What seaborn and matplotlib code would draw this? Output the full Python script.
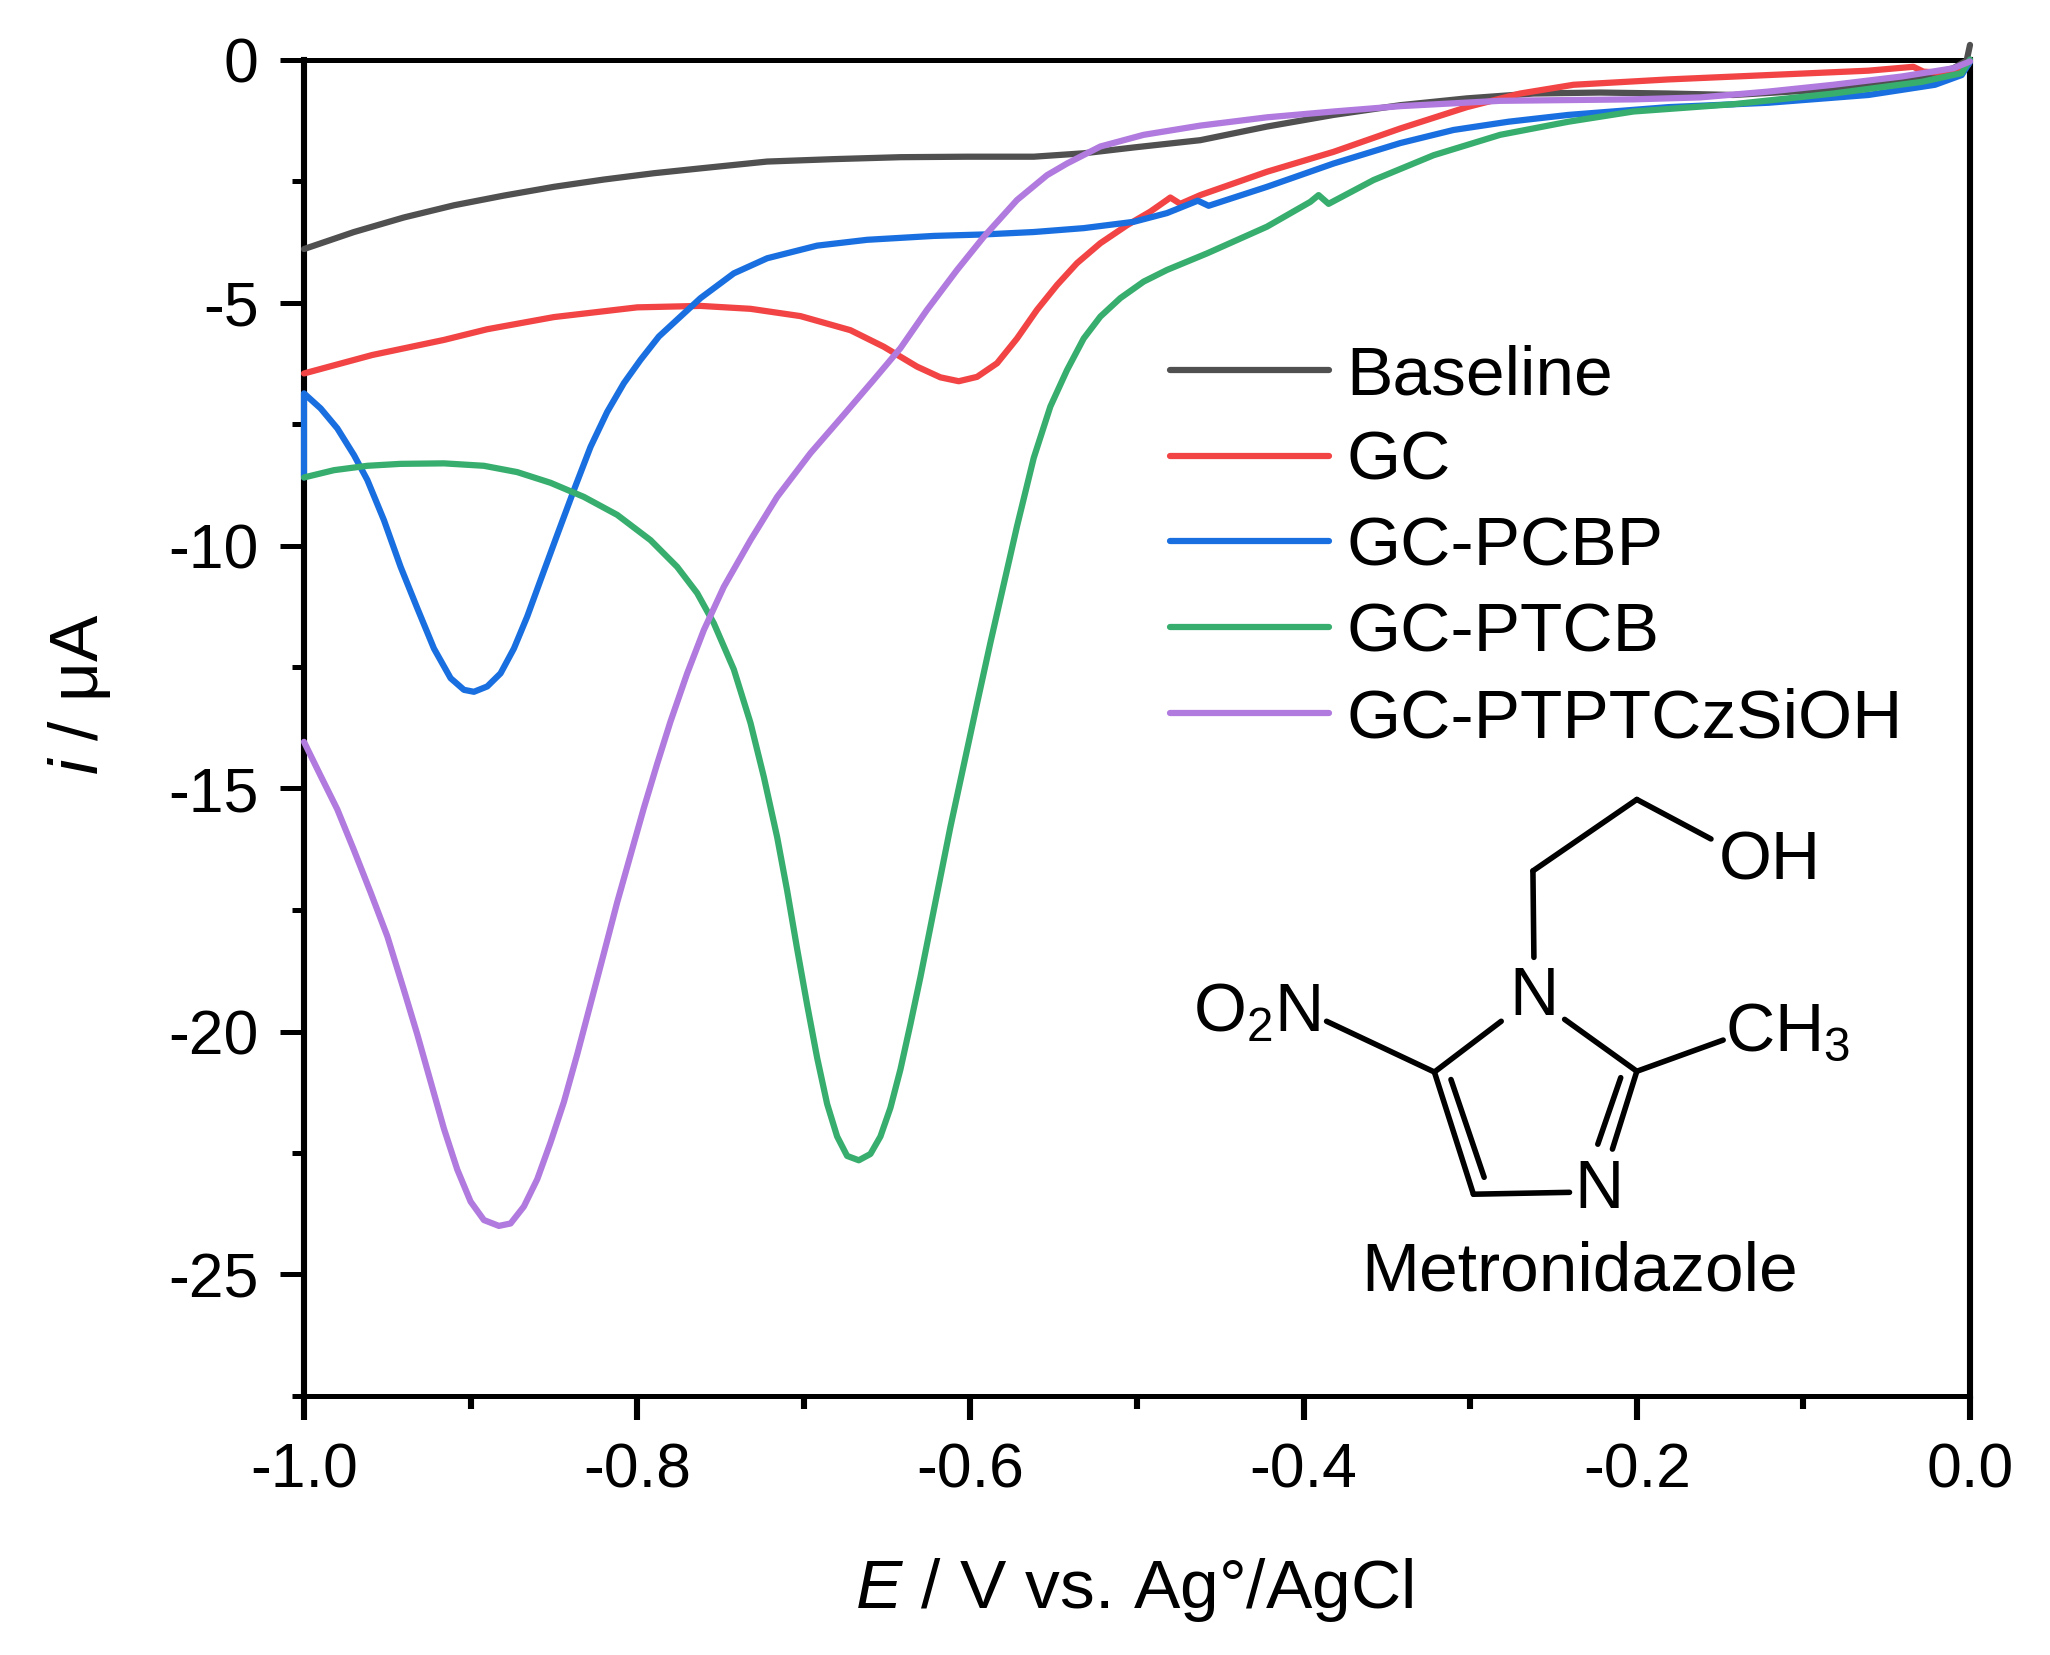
import matplotlib
matplotlib.use("Agg")
import matplotlib.pyplot as plt
import seaborn as sns
import pandas as pd
from matplotlib.lines import Line2D
from matplotlib.ticker import MultipleLocator, FixedLocator

series_names = ["Baseline", "GC", "GC-PCBP", "GC-PTCB", "GC-PTPTCzSiOH"]
colors = ["#505050", "#F24444", "#1A6FE0", "#37AE6E", "#B07ADE"]

base_x = [-1, -0.97, -0.94, -0.91, -0.88, -0.85, -0.82, -0.79, -0.762, -0.722, -0.682, -0.642, -0.602, -0.562, -0.532, -0.502, -0.462, -0.422, -0.382, -0.342, -0.302, -0.262, -0.222, -0.181, -0.142, -0.082, -0.041, -0.010, -0.002, 0]
base_y = [-3.9, -3.55, -3.25, -3.0, -2.8, -2.62, -2.47, -2.34, -2.24, -2.10, -2.05, -2.01, -2.0, -2.0, -1.93, -1.81, -1.66, -1.38, -1.14, -0.94, -0.80, -0.70, -0.68, -0.70, -0.73, -0.61, -0.46, -0.18, -0.02, 0.30]

gc_x = [-1, -0.959, -0.916, -0.89, -0.85, -0.80, -0.762, -0.732, -0.702, -0.672, -0.652, -0.632, -0.618, -0.607, -0.596, -0.584, -0.572, -0.560, -0.548, -0.536, -0.522, -0.506, -0.492, -0.482, -0.480, -0.474, -0.462, -0.422, -0.382, -0.342, -0.302, -0.270, -0.238, -0.181, -0.121, -0.061, -0.034, -0.028, -0.013, -0.001]
gc_y = [-6.46, -6.08, -5.77, -5.55, -5.30, -5.10, -5.07, -5.13, -5.28, -5.57, -5.91, -6.32, -6.54, -6.62, -6.53, -6.25, -5.74, -5.15, -4.64, -4.19, -3.78, -3.41, -3.13, -2.89, -2.84, -2.97, -2.79, -2.31, -1.90, -1.42, -0.98, -0.70, -0.52, -0.41, -0.32, -0.23, -0.15, -0.25, -0.28, -0.11]

pcbp_x = [-1, -1, -0.990, -0.980, -0.970, -0.962, -0.952, -0.942, -0.932, -0.922, -0.912, -0.904, -0.898, -0.890, -0.882, -0.874, -0.866, -0.858, -0.848, -0.838, -0.828, -0.818, -0.808, -0.798, -0.787, -0.762, -0.742, -0.722, -0.692, -0.662, -0.622, -0.592, -0.562, -0.532, -0.502, -0.482, -0.4635, -0.457, -0.422, -0.382, -0.342, -0.31, -0.277, -0.241, -0.181, -0.121, -0.061, -0.021, -0.005, 0]
pcbp_y = [-8.6, -6.87, -7.18, -7.59, -8.14, -8.65, -9.48, -10.44, -11.29, -12.12, -12.73, -12.97, -13.01, -12.9, -12.63, -12.12, -11.46, -10.71, -9.78, -8.86, -7.97, -7.25, -6.66, -6.18, -5.70, -4.91, -4.40, -4.09, -3.83, -3.71, -3.63, -3.60, -3.55, -3.47, -3.34, -3.16, -2.905, -3.01, -2.62, -2.14, -1.72, -1.45, -1.28, -1.14, -0.98, -0.89, -0.73, -0.52, -0.32, -0.05]

ptcb_x = [-1, -0.982, -0.962, -0.942, -0.916, -0.892, -0.872, -0.852, -0.832, -0.812, -0.792, -0.776, -0.764, -0.754, -0.742, -0.732, -0.724, -0.716, -0.710, -0.704, -0.698, -0.692, -0.686, -0.680, -0.674, -0.667, -0.660, -0.654, -0.648, -0.642, -0.636, -0.630, -0.624, -0.618, -0.612, -0.604, -0.596, -0.588, -0.581, -0.572, -0.562, -0.552, -0.542, -0.532, -0.522, -0.510, -0.496, -0.482, -0.458, -0.422, -0.396, -0.391, -0.385, -0.358, -0.322, -0.282, -0.241, -0.202, -0.142, -0.082, -0.029, -0.005, 0]
ptcb_y = [-8.60, -8.45, -8.36, -8.32, -8.31, -8.36, -8.49, -8.71, -9.0, -9.37, -9.89, -10.44, -10.98, -11.6, -12.55, -13.65, -14.76, -16.0, -17.1, -18.3, -19.45, -20.54, -21.49, -22.16, -22.56, -22.65, -22.52, -22.16, -21.57, -20.78, -19.85, -18.88, -17.85, -16.82, -15.79, -14.52, -13.25, -12.0, -10.95, -9.6, -8.2, -7.14, -6.39, -5.74, -5.29, -4.91, -4.57, -4.33, -3.99, -3.44, -2.93, -2.79, -2.97, -2.48, -1.97, -1.55, -1.28, -1.07, -0.92, -0.70, -0.46, -0.28, 0.0]

ptp_x = [-1, -0.990, -0.980, -0.970, -0.960, -0.950, -0.940, -0.932, -0.924, -0.916, -0.908, -0.900, -0.892, -0.883, -0.876, -0.868, -0.860, -0.852, -0.844, -0.836, -0.828, -0.820, -0.812, -0.804, -0.796, -0.788, -0.780, -0.770, -0.760, -0.748, -0.732, -0.716, -0.696, -0.676, -0.658, -0.642, -0.626, -0.608, -0.592, -0.572, -0.554, -0.542, -0.522, -0.496, -0.462, -0.422, -0.382, -0.342, -0.282, -0.202, -0.162, -0.121, -0.082, -0.041, -0.010, 0]
ptp_y = [-14.04, -14.74, -15.43, -16.27, -17.14, -18.04, -19.15, -20.06, -21.03, -22.0, -22.84, -23.5, -23.88, -24.0, -23.95, -23.6, -23.04, -22.28, -21.45, -20.47, -19.43, -18.39, -17.34, -16.37, -15.4, -14.49, -13.62, -12.63, -11.74, -10.85, -9.89, -9.0, -8.10, -7.31, -6.59, -5.94, -5.15, -4.33, -3.65, -2.89, -2.38, -2.14, -1.79, -1.55, -1.36, -1.19, -1.07, -0.96, -0.85, -0.82, -0.78, -0.66, -0.52, -0.35, -0.18, -0.04]

x_major = [-1.0, -0.8, -0.6, -0.4, -0.2, 0.0]
x_labels = ["-1.0", "-0.8", "-0.6", "-0.4", "-0.2", "0.0"]
y_major = [0, -5, -10, -15, -20, -25]
y_labels = ["0", "-5", "-10", "-15", "-20", "-25"]

sns.set_theme(style="white")
plt.rcParams["font.family"] = ["Liberation Sans", "DejaVu Sans"]
plt.rcParams["mathtext.fontset"] = "custom"
plt.rcParams["mathtext.it"] = "Liberation Sans:italic"
plt.rcParams["mathtext.rm"] = "Liberation Sans"

W, H = 2050, 1655
fig, ax = plt.subplots(figsize=(W / 100, H / 100), dpi=100)
fig.subplots_adjust(left=304 / W, right=1970 / W, top=1 - 59.5 / H, bottom=1 - 1396 / H)

frames = []
for name, xs, ys in zip(series_names,
                        [base_x, gc_x, pcbp_x, ptcb_x, ptp_x],
                        [base_y, gc_y, pcbp_y, ptcb_y, ptp_y]):
    frames.append(pd.DataFrame({"E": xs, "i": ys, "s": name}))
df = pd.concat(frames, ignore_index=True)

sns.lineplot(data=df, x="E", y="i", hue="s", palette=dict(zip(series_names, colors)),
             sort=False, estimator=None, errorbar=None, lw=4.5, ax=ax, legend=False,
             clip_on=False, zorder=3)
for ln in ax.get_lines():
    ln.set_solid_joinstyle("round")

ax.set_xlim(-1, 0)
ax.set_ylim(-27.5, 0)
ax.xaxis.set_major_locator(FixedLocator(x_major))
ax.set_xticklabels(x_labels)
ax.yaxis.set_major_locator(FixedLocator(y_major))
ax.set_yticklabels(y_labels)
ax.xaxis.set_minor_locator(MultipleLocator(0.1))
ax.yaxis.set_minor_locator(MultipleLocator(2.5))
ax.tick_params(axis="both", which="major", direction="out", length=17.5, labelsize=45,
               color="black", labelcolor="black", left=True, bottom=True)
ax.tick_params(axis="both", which="minor", direction="out", length=9,
               color="black", left=True, bottom=True)
ax.tick_params(axis="x", which="both", width=4.4)
ax.tick_params(axis="y", which="both", width=3.6)
ax.tick_params(axis="x", which="major", pad=15)
ax.tick_params(axis="y", which="major", pad=15)
for k, s in ax.spines.items():
    s.set_visible(True)
    s.set_color("black")
    s.set_linewidth(4.4 if k in ("left", "right") else 3.6)
ax.set_xlabel(r"$\mathit{E}$ / V vs. Ag°/AgCl", fontsize=50, color="black", labelpad=40, x=0.498)
ax.set_ylabel(r"$\mathit{i}$ / μA", fontsize=50, color="black", labelpad=40, y=0.525)

handles = [Line2D([], [], color=c, lw=4.5) for c in colors]
ax.legend(handles, series_names, loc="upper left", bbox_to_anchor=(0.52, 0.787), frameon=False,
          fontsize=50, labelspacing=0.314, handlelength=2.28, handletextpad=0.26, borderpad=0,
          borderaxespad=0, labelcolor="black")

# Structure of metronidazole (annotation in figure pixels)
def mx(X):
    return (1150 + X / 2.05) / W
def my(Y):
    return 1 - (760 + Y / 2.66) / H

bonds = [
    ((1150, 210), (998, 105)), ((998, 105), (785, 295)), ((785, 295), (787, 525)),
    ((720, 695), (583, 830)), ((583, 830), (663, 1155)), ((663, 1155), (860, 1150)),
    ((617, 850), (685, 1110)), ((850, 690), (998, 828)), ((998, 828), (948, 1035)),
    ((965, 845), (918, 1022)), ((998, 828), (1175, 745)), ((362, 695), (583, 830)),
]
for (a, b) in bonds:
    fig.add_artist(Line2D([mx(a[0]), mx(b[0])], [my(a[1]), my(b[1])], color="black", lw=4,
                          solid_capstyle="round"))
mol_font = 49
labels = [("OH", 1270, 269), ("N", 787, 630), ("N", 920, 1143)]
for t, X, Y in labels:
    fig.text(mx(X), my(Y), t, ha="center", va="center", fontsize=mol_font, color="black")
fig.text(mx(218), my(673), "O$_{\\mathrm{2}}$N", ha="center", va="center", fontsize=mol_font, color="black")
fig.text(mx(1307), my(728), "CH$_{\\mathrm{3}}$", ha="center", va="center", fontsize=mol_font, color="black")
fig.text(mx(880), my(1363), "Metronidazole", ha="center", va="center", fontsize=50, color="black")

fig.savefig("out.png", dpi=100, facecolor="white")
